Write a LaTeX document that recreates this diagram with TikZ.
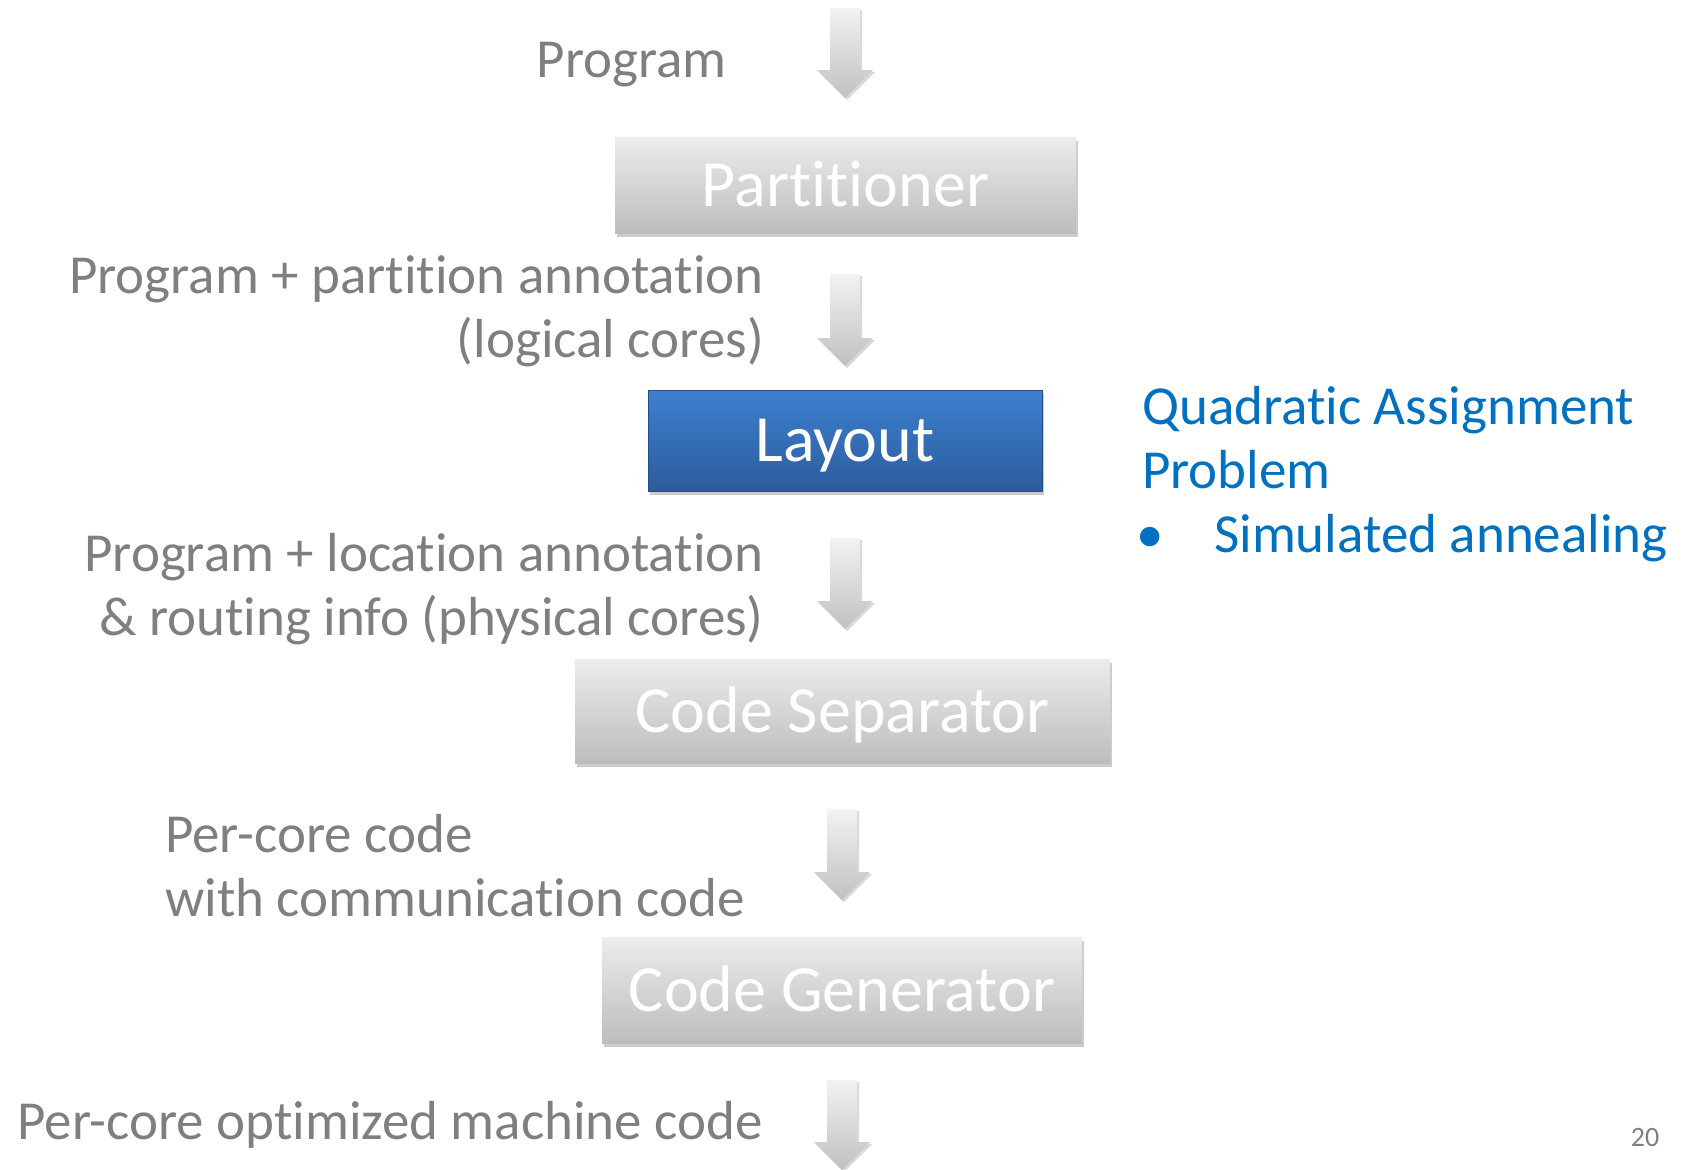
\documentclass[tikz,border=0pt]{standalone}
\usepackage{fontspec}
\setmainfont{Carlito}[Ligatures=NoCommon]
\usetikzlibrary{shadows}
\definecolor{txtgray}{HTML}{7F7F7F}
\definecolor{qblue}{HTML}{0070C0}
\definecolor{boxtop}{HTML}{ECECEC}
\definecolor{boxbot}{HTML}{BDBDBD}
\definecolor{laytop}{HTML}{3D80D0}
\definecolor{laybot}{HTML}{2C5C9C}
\definecolor{arrtop}{HTML}{F3F3F3}
\definecolor{arrbot}{HTML}{C0C0C0}
\tikzset{
  arrowblk/.style={top color=arrtop, bottom color=arrbot, draw=none,
    drop shadow={shadow xshift=2pt, shadow yshift=-2pt, opacity=0.15, fill=black}},
  stagebox/.style={rectangle, draw=none, top color=boxtop, bottom color=boxbot,
    text=white, font=\fontsize{66}{79}\selectfont, text height=42pt, text depth=0pt,
    inner sep=0pt,
    drop shadow={shadow xshift=1.5pt, shadow yshift=-3.5pt, opacity=0.25, fill=black!80}},
  layoutbox/.style={stagebox, top color=laytop, bottom color=laybot,
    draw=laybot!85!black, line width=0.6pt},
  lbl/.style={text=txtgray, font=\fontsize{55}{64}\selectfont, inner sep=0pt},
  qlbl/.style={text=qblue, font=\fontsize{55}{63.5}\selectfont, inner sep=0pt},
}
\newcommand\blockdown[5]{%
  \coordinate (#1) at (#2,#3);
  \path[arrowblk] (#2-15,#3) -- (#2+15,#3) -- (#2+15,#4) -- (#2+28,#4) -- (#2,#5) -- (#2-28,#4) -- (#2-15,#4) -- cycle;
}
\begin{document}
\begin{tikzpicture}[x=1pt,y=-1pt]
\useasboundingbox (0,0) rectangle (1687,1170);

% block arrows
\blockdown{a1}{845}{8}{70}{98}
\blockdown{a2}{845}{274}{338}{366}
\blockdown{a3}{845}{538}{601}{629}
\blockdown{a4}{842}{809}{872}{900}
\blockdown{a5}{842}{1080}{1142}{1170}

% stage boxes
\node[stagebox, minimum width=461pt, minimum height=96pt] (part) at (845.5,185) {Partitioner};
\node[layoutbox, minimum width=394pt, minimum height=101pt] (lay) at (845,440.5) {Layout};
\node[stagebox, minimum width=535pt, minimum height=104pt] (sep) at (842.5,711) {Code Separator};
\node[stagebox, minimum width=480pt, minimum height=106pt] (gen) at (842,990) {Code Generator};

% labels (base anchor = baseline of last line)
\node[lbl, anchor=base east] (l0) at (727,77.5) {Program};
\node[lbl, anchor=base east, align=right] (l1) at (764,357) {Program + partition annotation\\(logical cores)};
\node[lbl, anchor=base east, align=right] (l2) at (764,635) {Program + location annotation\\\& routing info (physical cores)};
\node[lbl, anchor=base west, align=left] (l3) at (165,916) {Per-core code\\with communication code};
\node[lbl, anchor=base east] (l4) at (763,1139) {Per-core optimized machine code};

% right side note
\node[qlbl, anchor=base west, align=left] (q1) at (1142,488) {Quadratic Assignment\\Problem};
\node[qlbl, anchor=base] (qb) at (1150,552) {•};
\node[qlbl, anchor=base west] (q2) at (1214,552) {Simulated annealing};

% page number
\node[text=txtgray, font=\fontsize{28}{32}\selectfont, inner sep=0pt, anchor=base] (pg) at (1645,1146) {20};
\end{tikzpicture}
\end{document}
